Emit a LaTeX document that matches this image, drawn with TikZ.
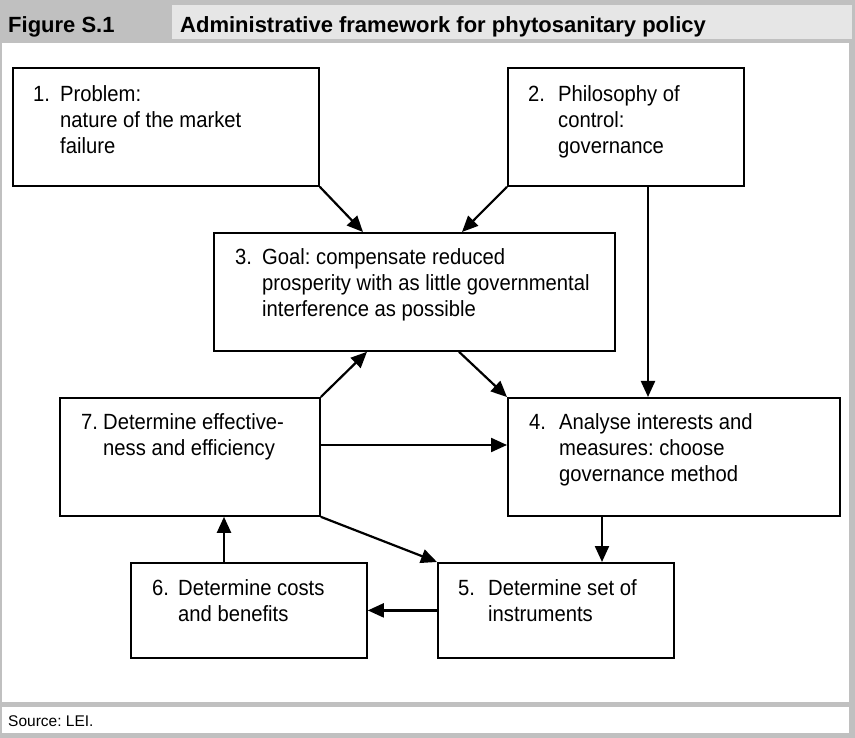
\documentclass[tikz,border=0pt]{standalone}
\usepackage{fontspec}
\setmainfont{Liberation Sans}[FakeStretch=0.92]
\newfontfamily\plainsans{Liberation Sans}
\usetikzlibrary{arrows.meta,calc}
\definecolor{framegray}{RGB}{192,192,192}
\definecolor{titlegray}{RGB}{230,230,230}
\frenchspacing
\newcommand{\boxtext}[2]{\fontsize{22}{26}\selectfont\begin{tabular}[t]{@{}p{#1pt}@{}l@{}}#2\end{tabular}}
\begin{document}
\begin{tikzpicture}[x=1pt,y=-1pt,
  box/.style={draw=black,line width=1.8pt,fill=white,inner sep=0pt,anchor=north west},
  txt/.style={anchor=base west,inner sep=0pt,text=black},
  arr/.style={draw=black,line width=2.2pt,-{Triangle[length=16pt,width=14pt]}}]
\useasboundingbox (0,0) rectangle (855,738);
% frame
\fill[framegray] (0,0) rectangle (855,738);
\fill[titlegray] (172,5) rectangle (852,39);
\fill[white] (1.5,43) rectangle (848.5,702);
\fill[white] (1.5,707) rectangle (848.5,733);
\node[txt,font=\plainsans\bfseries\fontsize{22}{26}\selectfont] (fig) at (8,33) {Figure S.1};
\node[txt,font=\plainsans\bfseries\fontsize{22}{26}\selectfont] (title) at (180,33) {Administrative framework for phytosanitary policy};
\node[txt,font=\plainsans\fontsize{15.5}{18}\selectfont] (src) at (8,726) {Source: LEI.};
% boxes
\node[box,minimum width=306pt,minimum height=118pt] (b1) at (12,67) {};
\node[box,minimum width=236pt,minimum height=118pt] (b2) at (507,67) {};
\node[box,minimum width=401pt,minimum height=118pt] (b3) at (213,232) {};
\node[box,minimum width=332pt,minimum height=118pt] (b4) at (507,397) {};
\node[box,minimum width=260pt,minimum height=118pt] (b7) at (59,397) {};
\node[box,minimum width=236pt,minimum height=95pt] (b5) at (437,562) {};
\node[box,minimum width=236pt,minimum height=95pt] (b6) at (130,562) {};
% texts
\node[txt] (t1) at (33,102) {\boxtext{27}{1. & Problem:\\ & nature of the market\\ & failure}};
\node[txt] (t2) at (528,102) {\boxtext{30}{2. & Philosophy of\\ & control:\\ & governance}};
\node[txt] (t3) at (235,265) {\boxtext{27}{3. & Goal: compensate reduced\\ & prosperity with as little governmental\\ & interference as possible}};
\node[txt] (t4) at (529,429) {\boxtext{30}{4. & Analyse interests and\\ & measures: choose\\ & governance method}};
\node[txt] (t7) at (81,429) {\boxtext{22}{7. & Determine effective-\\ & ness and efficiency}};
\node[txt] (t5) at (458,595) {\boxtext{30}{5. & Determine set of\\ & instruments}};
\node[txt] (t6) at (152,595) {\boxtext{26}{6. & Determine costs\\ & and benefits}};
% helper coordinates
\coordinate (x363) at (363,0);
\coordinate (x462) at (462,0);
\coordinate (x648) at (648,0);
\coordinate (x459) at (459,0);
\coordinate (x367) at (367,0);
\coordinate (x602) at (602,0);
\coordinate (x224) at (224,0);
\coordinate (y445) at (0,445);
% connectors
\draw[arr] (b1.south east) -- (x363 |- b3.north);
\draw[arr] (b2.south west) -- (x462 |- b3.north);
\draw[arr] (x648 |- b2.south) -- (x648 |- b4.north);
\draw[arr] (x459 |- b3.south) -- (b4.north west);
\draw[arr] (b7.north east) -- (x367 |- b3.south);
\draw[arr] (b7.east |- y445) -- (b4.west |- y445);
\draw[arr] (b7.south east) -- (b5.north west);
\draw[arr] (x602 |- b4.south) -- (x602 |- b5.north);
\draw[arr] (b5.west) -- (b6.east);
\draw[arr] (x224 |- b6.north) -- (x224 |- b7.south);
\end{tikzpicture}
\end{document}
